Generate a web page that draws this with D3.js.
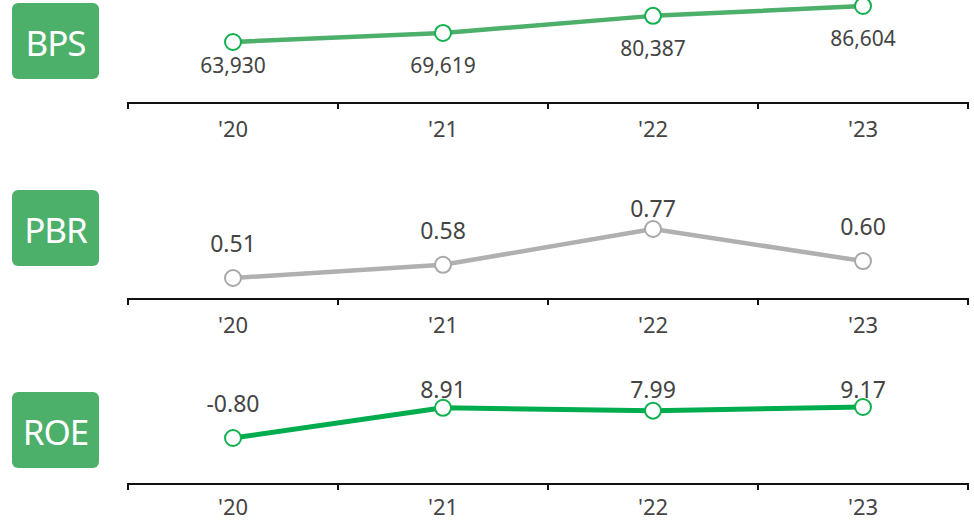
<!DOCTYPE html>
<html><head><meta charset="utf-8">
<script src="https://cdn.jsdelivr.net/npm/d3@7"></script>
<style>
html,body{margin:0;padding:0;background:#fff;}
svg{display:block;font-family:"Noto Sans","Open Sans",sans-serif;}
</style></head>
<body>
<svg id="c" width="974" height="522"></svg>
<script>
const years = ["'20", "'21", "'22", "'23"];
const bps = [63930, 69619, 80387, 86604];
const pbr = [0.51, 0.58, 0.77, 0.60];
const roe = [-0.80, 8.91, 7.99, 9.17];
const bpsLabels = ["63,930", "69,619", "80,387", "86,604"];
const pbrLabels = ["0.51", "0.58", "0.77", "0.60"];
const roeLabels = ["-0.80", "8.91", "7.99", "9.17"];

const W = 974, H = 522;
const svg = d3.select("#c");
const x = d3.scaleBand().domain(years).range([128, 968]);

const panels = [
  {name:"BPS", values:bps, labels:bpsLabels, badgeY:3, axisY:103, yTop:6, yBot:42,
   line:"#4caf6a", dot:"#12b04e", lw:4.5, labelPos:"below", labelSize:21, clamp:65},
  {name:"PBR", values:pbr, labels:pbrLabels, badgeY:190, axisY:299, yTop:229, yBot:278,
   line:"#b0b0b0", dot:"#a8a8a8", lw:4.5, labelPos:"above", labelSize:23, clamp:208},
  {name:"ROE", values:roe, labels:roeLabels, badgeY:392, axisY:484, yTop:407, yBot:438,
   line:"#00ad4e", dot:"#12b04e", lw:5, labelPos:"above", labelSize:23, clamp:389}
];

panels.forEach(p => {
  const ext = d3.extent(p.values);
  const y = d3.scaleLinear().domain(ext).range([p.yBot, p.yTop]);
  const g = svg.append("g");

  g.append("rect").attr("x",12).attr("y",p.badgeY).attr("width",87).attr("height",76)
    .attr("rx",6).attr("fill","#4caf6a");
  g.append("text").attr("x",55.5).attr("y",p.badgeY+39).attr("text-anchor","middle")
    .attr("dominant-baseline","central").attr("fill","#fff").attr("font-size",35)
    .attr("letter-spacing",-1).text(p.name);

  const axis = d3.axisBottom(x).tickSize(0).tickFormat("");
  const ag = g.append("g").attr("transform",`translate(0,${p.axisY})`).call(axis);
  ag.select(".domain").attr("stroke","#111").attr("stroke-width",2).attr("d","M128,6V0H968V6");
  const bounds = [128].concat(years.map(d => x(d) + x.bandwidth()));
  ag.selectAll(".tk").data(bounds).join("line").attr("class","tk")
    .attr("x1",d=>d).attr("x2",d=>d).attr("y1",0).attr("y2",6)
    .attr("stroke","#111").attr("stroke-width",2);
  g.selectAll(".yr").data(years).join("text").attr("class","yr")
    .attr("x",d=>x(d)+x.bandwidth()/2).attr("y",Math.min(p.axisY+25, H-16))
    .attr("text-anchor","middle").attr("dominant-baseline","central")
    .attr("fill","#444").attr("font-size",22).text(d=>d);

  const pts = p.values.map((v,i)=>({yr:years[i], v, lab:p.labels[i]}));
  const line = d3.line().x(d=>x(d.yr)+x.bandwidth()/2).y(d=>y(d.v));
  g.append("path").datum(pts).attr("d",line).attr("fill","none")
    .attr("stroke",p.line).attr("stroke-width",p.lw).attr("stroke-linejoin","round");
  g.selectAll(".dot").data(pts).join("circle").attr("class","dot")
    .attr("cx",d=>x(d.yr)+x.bandwidth()/2).attr("cy",d=>y(d.v)).attr("r",8)
    .attr("fill","#fff").attr("stroke",p.dot).attr("stroke-width",2);
  g.selectAll(".lab").data(pts).join("text").attr("class","lab")
    .attr("x",d=>x(d.yr)+x.bandwidth()/2)
    .attr("y",d=> p.labelPos==="below" ? Math.min(y(d.v)+32, p.clamp) : Math.max(y(d.v)-35, p.clamp))
    .attr("text-anchor","middle").attr("dominant-baseline","central")
    .attr("fill","#444").attr("font-size",p.labelSize).text(d=>d.lab);
});
</script>
</body></html>
